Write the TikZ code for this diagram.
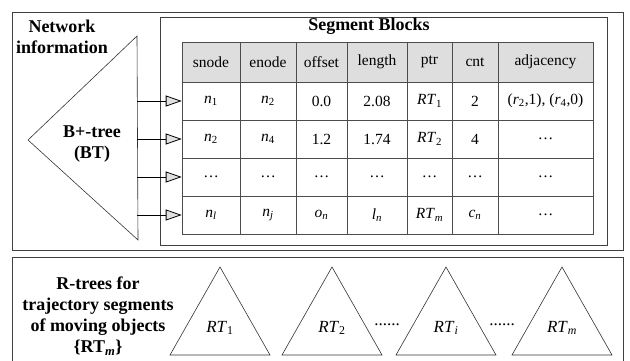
\documentclass[tikz,border=0pt]{standalone}
\usepackage{fontspec}
\setmainfont{Liberation Serif}
\usetikzlibrary{arrows.meta}
\usetikzlibrary{positioning}
\newcommand{\itsub}[2]{\textit{#1}\textsubscript{\textit{#2}}}
\newcommand{\rmsub}[2]{\textit{#1}\textsubscript{#2}}

\tikzset{
  box/.style={draw=black!75, line width=0.7pt},
  cell/.style={draw=black!70, line width=0.6pt, inner sep=0pt, minimum height=38pt, font=\fontsize{15.5}{18}\selectfont},
  headcell/.style={cell, fill=black!13, minimum height=40pt},
  boldtext/.style={font=\fontsize{18}{21}\selectfont\bfseries, align=center, inner sep=0pt},
  feed/.style={draw=black, line width=0.8pt, -{Triangle[length=16pt, width=11pt, fill=black!12]}},
  tree/.style={draw=black!80, line width=0.6pt},
  treelabel/.style={font=\fontsize{17}{20}\selectfont, inner sep=0pt},
}

\begin{document}
\begin{tikzpicture}[x=1pt, y=-1pt]
\useasboundingbox (0,0) rectangle (630,361);

% frames
\draw[box] (12,12) rectangle (623,250);
\draw[box] (160,17) rectangle (607,245);
\draw[box] (12,257) rectangle (623,361);

\node[boldtext] (netinfo) at (62,37) {Network\\information};
\node[boldtext] (segblocks) at (369,26) {Segment Blocks};

% B+-tree
\draw[tree] (137,36) -- (28,140) -- (138,240) -- cycle;
\node[boldtext] (bt) at (92,144) {B+-tree\\(BT)};

% table
\foreach \xl/\xr/\txt [count=\c] in {182/240/snode, 240/296/enode, 296/347/offset, 347/407/length, 407/452/ptr, 452/498/cnt, 498/593/adjacency}
  \node[headcell, minimum width={(\xr-\xl)*1pt}] (h\c) at ({(\xl+\xr)/2},62) {\txt};
\foreach \xl/\xr/\txt [count=\c] in {182/240/\rmsub{n}{1}, 240/296/\rmsub{n}{2}, 296/347/0.0, 347/407/2.08, 407/452/\rmsub{RT}{1}, 452/498/2, 498/593/{(\rmsub{r}{2},1), (\rmsub{r}{4},0)}}
  \node[cell, minimum width={(\xr-\xl)*1pt}] (r1c\c) at ({(\xl+\xr)/2},101) {\txt};
\foreach \xl/\xr/\txt [count=\c] in {182/240/\rmsub{n}{2}, 240/296/\rmsub{n}{4}, 296/347/1.2, 347/407/1.74, 407/452/\rmsub{RT}{2}, 452/498/4, 498/593/\dots}
  \node[cell, minimum width={(\xr-\xl)*1pt}] (r2c\c) at ({(\xl+\xr)/2},139) {\txt};
\foreach \xl/\xr/\txt [count=\c] in {182/240/\dots, 240/296/\dots, 296/347/\dots, 347/407/\dots, 407/452/\dots, 452/498/\dots, 498/593/\dots}
  \node[cell, minimum width={(\xr-\xl)*1pt}] (r3c\c) at ({(\xl+\xr)/2},177) {\txt};
\foreach \xl/\xr/\txt [count=\c] in {182/240/\itsub{n}{l}, 240/296/\itsub{n}{j}, 296/347/\itsub{o}{n}, 347/407/\itsub{l}{n}, 407/452/\itsub{RT}{m}, 452/498/\itsub{c}{n}, 498/593/\dots}
  \node[cell, minimum width={(\xr-\xl)*1pt}] (r4c\c) at ({(\xl+\xr)/2},215) {\txt};

% pointers from BT to the blocks
\foreach \r/\y in {1/101, 2/139, 3/177, 4/215} {
  \coordinate (bt\r) at (137,\y);
  \draw[feed] (bt\r) -- (r\r c1.west);
}

% R-trees
\node[boldtext] (rtrees) at (98,316) {R-trees for\\trajectory segments\\of moving objects\\\{RT\textsubscript{\textit{m}}\}};
\foreach \cx/\lab [count=\i] in {220/\rmsub{RT}{1}, 332/\rmsub{RT}{2}, 446/\itsub{RT}{i}, 562/\itsub{RT}{m}} {
  \draw[tree] (\cx-50,355) -- (\cx,267) -- (\cx+50,355) -- cycle;
  \node[treelabel] (rt\i) at (\cx,328) {\lab};
}
\node[treelabel] (dots1) at (387,325) {......};
\node[treelabel] (dots2) at (502,325) {......};

\end{tikzpicture}
\end{document}
